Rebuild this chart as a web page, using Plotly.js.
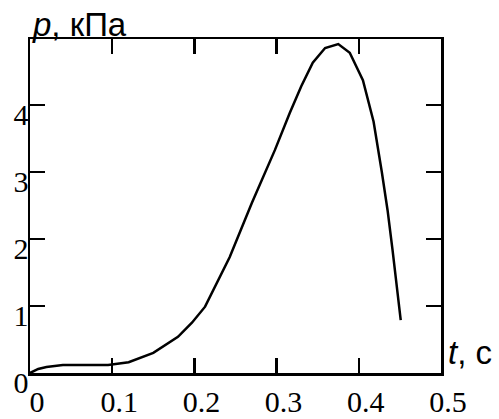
<!DOCTYPE html>
<html>
<head>
<meta charset="utf-8">
<script src="https://cdn.plot.ly/plotly-3.0.1.min.js"></script>
<style>html,body{margin:0;padding:0;background:#fff;}#chart{width:499px;height:419px;}</style>
</head>
<body>
<div id="chart"></div>
<script>
// time, s
const tValues = [0, 0.01, 0.02, 0.04, 0.07, 0.095, 0.12, 0.15, 0.18, 0.197, 0.213, 0.243, 0.27, 0.298, 0.316, 0.33, 0.344, 0.359, 0.375, 0.389, 0.405, 0.418, 0.428, 0.435, 0.441, 0.451];
// pressure, kPa
const pValues = [0, 0.06, 0.09, 0.12, 0.12, 0.12, 0.16, 0.30, 0.54, 0.75, 0.99, 1.73, 2.54, 3.33, 3.88, 4.28, 4.63, 4.85, 4.91, 4.78, 4.37, 3.75, 3.0, 2.43, 1.84, 0.79];
const xTicks = [0, 0.1, 0.2, 0.3, 0.4, 0.5];
const xTickText = ['0', '0.1', '0.2', '0.3', '0.4', '0.5'];
const yTicks = [0, 1, 2, 3, 4];
const yTickText = ['0', '1', '2', '3', '4'];
const yTitle = '<i>p</i>, кПа';
const xTitle = '<i>t</i>, с';

const axisCommon = {
  showline: true, linecolor: '#000', linewidth: 2.5, mirror: 'ticks',
  ticks: 'inside', ticklen: 15, tickwidth: 2.5, tickcolor: '#000',
  showgrid: false, zeroline: false, fixedrange: true,
  tickfont: {family: 'Liberation Serif, serif', size: 30, color: '#000'}
};

const data = [{
  x: tValues, y: pValues, type: 'scatter', mode: 'lines',
  line: {color: '#000', width: 2.5, shape: 'linear'},
  hoverinfo: 'skip'
}];

const layout = {
  width: 499, height: 419,
  margin: {l: 30, r: 58, t: 39, b: 46, pad: 0},
  paper_bgcolor: '#fff', plot_bgcolor: '#fff',
  showlegend: false,
  xaxis: Object.assign({}, axisCommon, {
    range: [0, 0.5], tickvals: xTicks, ticktext: xTickText,
    ticklabelshift: 7, ticklabelstandoff: 0
  }),
  yaxis: Object.assign({}, axisCommon, {
    range: [0, 4.985], tickvals: yTicks, ticktext: yTickText,
    ticklabelshift: 9, ticklabelstandoff: -7
  }),
  annotations: [
    {text: yTitle, xref: 'paper', yref: 'paper', x: 0, y: 1, xanchor: 'left', yanchor: 'bottom',
     yshift: -6, showarrow: false, font: {family: 'Liberation Sans, Arial, sans-serif', size: 33, color: '#000'}},
    {text: xTitle, xref: 'paper', yref: 'paper', x: 1, y: 0, xanchor: 'left', yanchor: 'bottom',
     xshift: 5, yshift: 0, showarrow: false, font: {family: 'Liberation Sans, Arial, sans-serif', size: 33, color: '#000'}}
  ]
};

Plotly.newPlot('chart', data, layout, {staticPlot: true, displayModeBar: false});
</script>
</body>
</html>
